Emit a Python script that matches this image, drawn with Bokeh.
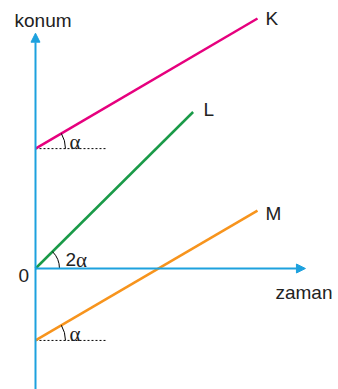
import math
from bokeh.plotting import figure
from bokeh.models import Range1d, Arrow, NormalHead
from bokeh.core.properties import value
from bokeh.embed import file_html
from bokeh.resources import INLINE

# data (time, position)
t_K = [0, 10.0]
pos_K = [5.4, 11.26]
t_L = [0, 7.1]
pos_L = [0, 7.05]
t_M = [0, 10.0]
pos_M = [-3.24, 2.61]

line_labels = ["K", "L", "M"]
label_t = [10.36, 7.57, 10.36]
label_pos = [11.24, 7.18, 2.50]

axis_t_max = 12.16
axis_pos_min = -5.5
axis_pos_max = 10.6
dash_len = 3.24

FONT = "Liberation Sans"
AXIS_COLOR = "#1da1de"
K_COLOR = "#e6007e"
L_COLOR = "#1a9a48"
M_COLOR = "#f7941d"

p = figure(width=338, height=389, output_backend="svg", toolbar_location=None,
           x_range=Range1d(-1.5766, 13.649), y_range=Range1d(-5.45, 12.072),
           min_border=0)
p.axis.visible = False
p.grid.visible = False
p.outline_line_color = None
p.background_fill_color = "white"

# axes with arrows
p.add_layout(Arrow(end=NormalHead(size=9, fill_color=AXIS_COLOR, line_color=AXIS_COLOR),
                   x_start=0, y_start=axis_pos_min, x_end=0, y_end=axis_pos_max,
                   line_color=AXIS_COLOR, line_width=2))
p.add_layout(Arrow(end=NormalHead(size=9, fill_color=AXIS_COLOR, line_color=AXIS_COLOR),
                   x_start=0, y_start=0, x_end=axis_t_max, y_end=0,
                   line_color=AXIS_COLOR, line_width=2))

# dashed reference lines
p.line([0, dash_len], [pos_K[0], pos_K[0]], line_color="black", line_width=1, line_dash="2 2")
p.line([0, dash_len], [pos_M[0], pos_M[0]], line_color="black", line_width=1, line_dash="2 2")

# lines
p.line(t_K, pos_K, line_color=K_COLOR, line_width=2.5)
p.line(t_L, pos_L, line_color=L_COLOR, line_width=2.5)
p.line(t_M, pos_M, line_color=M_COLOR, line_width=2.5)

# angle arcs
aK = math.atan2(pos_K[1] - pos_K[0], t_K[1] - t_K[0])
aL = math.atan2(pos_L[1] - pos_L[0], t_L[1] - t_L[0])
aM = math.atan2(pos_M[1] - pos_M[0], t_M[1] - t_M[0])
p.arc(x=[0], y=[pos_K[0]], radius=1.35, start_angle=0, end_angle=aK, line_color="black", line_width=1)
p.arc(x=[0], y=[0], radius=1.08, start_angle=0, end_angle=aL, line_color="black", line_width=1)
p.arc(x=[0], y=[pos_M[0]], radius=1.35, start_angle=0, end_angle=aM, line_color="black", line_width=1)

# labels
p.text(x=label_t, y=label_pos, text=line_labels, text_font=value(FONT), text_font_size="19px",
       text_color="#222222", text_baseline="alphabetic", text_align="left")
p.text(x=[-0.946], y=[11.17], text=["konum"], text_font=value(FONT), text_font_size="19px",
       text_color="#222222", text_baseline="alphabetic")
p.text(x=[-0.766], y=[-0.32], text=["0"], text_font=value(FONT), text_font_size="19px",
       text_color="#222222", text_baseline="alphabetic")
p.text(x=[10.81], y=[-1.09], text=["zaman"], text_font=value(FONT), text_font_size="19px",
       text_color="#222222", text_baseline="alphabetic")

p.text(x=[1.53, 1.53], y=[5.72, -2.93], text=["α", "α"], text_font=value("Liberation Serif"),
       text_font_size="21px", text_color="#222222", text_baseline="alphabetic")
p.text(x=[1.35], y=[0.40], text=["2"], text_font=value(FONT), text_font_size="19px",
       text_color="#222222", text_baseline="alphabetic")
p.text(x=[1.83], y=[0.40], text=["α"], text_font=value("Liberation Serif"), text_font_size="21px",
       text_color="#222222", text_baseline="alphabetic")

open("out.html", "w").write(file_html(p, INLINE))
